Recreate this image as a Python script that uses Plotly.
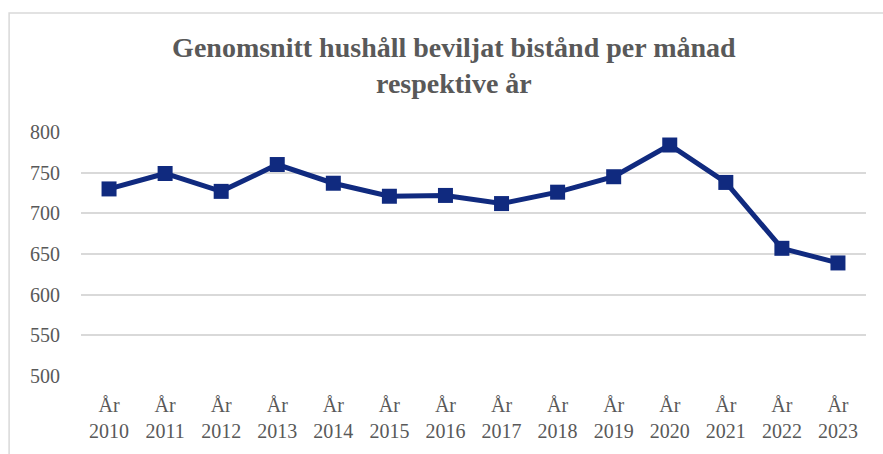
import plotly.graph_objects as go

# ── Data ──────────────────────────────────────────────────────────────
years = [2010, 2011, 2012, 2013, 2014, 2015, 2016,
         2017, 2018, 2019, 2020, 2021, 2022, 2023]
households = [730, 749, 727, 760, 737, 721, 722,
              712, 726, 745, 784, 738, 657, 639]
y_ticks = [500, 550, 600, 650, 700, 750, 800]

labels = [f"År<br>{y}" for y in years]

NAVY = "#102A7F"
GREY_TEXT = "#595959"
SERIF = "Liberation Serif, Times New Roman, serif"

fig = go.Figure(go.Scatter(
    x=labels, y=households, mode="lines+markers",
    line=dict(color=NAVY, width=5),
    marker=dict(symbol="square", size=15, color=NAVY),
    hoverinfo="x+y",
))

# outer chart border (Excel style frame, cropped at right/bottom)
fig.add_shape(type="rect", xref="paper", yref="paper",
              x0=-0.0916, x1=1.2, y0=-0.6, y1=1.488,
              line=dict(color="#d9d9d9", width=1.5), layer="below")

fig.update_layout(
    width=883, height=454,
    margin=dict(l=81, r=17, t=132, b=78),
    paper_bgcolor="white", plot_bgcolor="white",
    showlegend=False,
    font=dict(family=SERIF, color=GREY_TEXT, size=20),
    title=dict(
        text="<b>Genomsnitt hushåll beviljat bistånd per månad<br>respektive år</b>",
        x=0.514, xanchor="center", y=0.875, yanchor="top",
        font=dict(family=SERIF, size=28, color=GREY_TEXT),
    ),
    xaxis=dict(type="category", range=[-0.5, len(years) - 0.5],
               showgrid=False, showline=False,
               ticks="", ticklabelstandoff=15,
               tickfont=dict(size=20, color=GREY_TEXT)),
    yaxis=dict(range=[500, 800], tickvals=y_ticks, showgrid=True,
               gridcolor="#d9d9d9", gridwidth=1.5, zeroline=False,
               showline=False, ticks="", ticklabelstandoff=20,
               tickfont=dict(size=20, color=GREY_TEXT)),
)

# drop the default page margin so the figure sits at the window corner
fig.write_html("out.html", config={"displayModeBar": False},
               post_script="document.body.style.margin='0';")
